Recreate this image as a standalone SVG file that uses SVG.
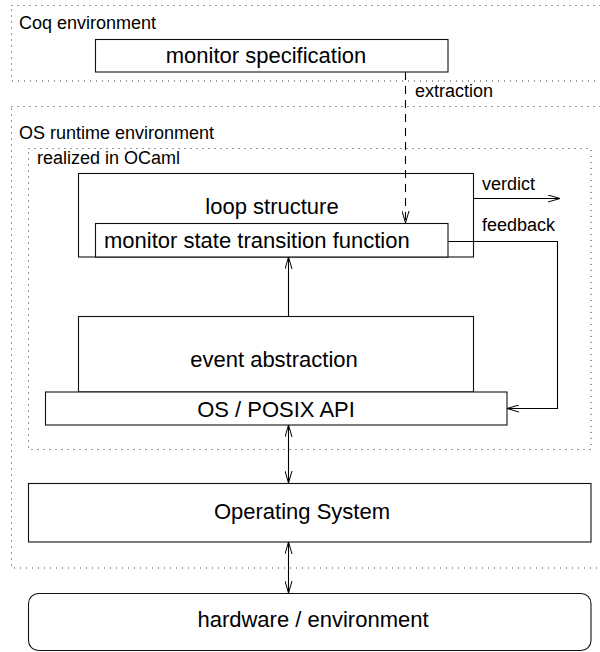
<svg xmlns="http://www.w3.org/2000/svg" width="600" height="652" viewBox="0 0 600 652">
  <style>
    .region { fill: none; stroke: #333; stroke-width: 1; stroke-dasharray: 1 5; }
    .box { fill: #fff; stroke: #111; stroke-width: 1.1; }
    .label { font-family: "Liberation Sans", Arial, sans-serif; font-size: 18px; fill: #000; }
    .title { font-family: "Liberation Sans", Arial, sans-serif; font-size: 22px; fill: #000; text-anchor: middle; }
    .link { fill: none; stroke: #000; stroke-width: 1.1; }
    .dashed { stroke-dasharray: 8 6; }
  </style>
  <defs>
    <marker id="head" markerUnits="userSpaceOnUse" markerWidth="14" markerHeight="8" viewBox="0 0 14 8" refX="13" refY="4" orient="auto-start-reverse">
      <path d="M1,0.5 L13,4 L1,7.5" fill="none" stroke="#000" stroke-width="1"/>
    </marker>
  </defs>

  <!-- environment regions -->
  <g id="coq-env">
    <rect class="region" x="11.5" y="5.5" width="620" height="75.5"/>
    <text class="label" x="19" y="29">Coq environment</text>
  </g>
  <g id="os-runtime-env">
    <rect class="region" x="11.5" y="106.5" width="620" height="461.5"/>
    <text class="label" x="19" y="139">OS runtime environment</text>
  </g>
  <g id="ocaml-region">
    <rect class="region" x="28.5" y="148.5" width="562.5" height="301"/>
    <text class="label" x="37" y="164">realized in OCaml</text>
  </g>

  <!-- components -->
  <g id="monitor-spec">
    <rect class="box" x="95.5" y="39.5" width="352.5" height="32.5"/>
    <text class="title" x="266" y="63">monitor specification</text>
  </g>
  <g id="loop-structure">
    <rect class="box" x="78.5" y="173.5" width="395" height="83.5"/>
    <text class="title" x="272" y="214">loop structure</text>
  </g>
  <g id="transition-function">
    <rect class="box" x="95.5" y="223.5" width="352.5" height="33.5"/>
    <text class="title" x="104" y="248" style="text-anchor:start">monitor state transition function</text>
  </g>
  <g id="event-abstraction">
    <rect class="box" x="78.5" y="316.5" width="395" height="75.5"/>
    <text class="title" x="274" y="367">event abstraction</text>
  </g>
  <g id="posix-api">
    <rect class="box" x="45.5" y="392" width="461.5" height="33"/>
    <text class="title" x="276" y="416.5">OS / POSIX API</text>
  </g>
  <g id="operating-system">
    <rect class="box" x="28.5" y="483.5" width="562.5" height="58.5"/>
    <text class="title" x="302" y="519">Operating System</text>
  </g>
  <g id="hardware">
    <rect class="box" x="28.5" y="593.5" width="562.5" height="57" rx="10" ry="10"/>
    <text class="title" x="313" y="627">hardware / environment</text>
  </g>

  <!-- connectors -->
  <g id="connectors">
    <path class="link dashed" d="M405.5,72 V223" marker-end="url(#head)"/>
    <text class="label" x="415" y="97">extraction</text>
    <path class="link" d="M473.5,198.5 H560" marker-end="url(#head)"/>
    <text class="label" x="482" y="190">verdict</text>
    <path class="link" d="M448,241.5 H557.5 V408.5 H507" marker-end="url(#head)"/>
    <text class="label" x="482" y="231">feedback</text>
    <path class="link" d="M288.5,316 V257" marker-end="url(#head)"/>
    <path class="link" d="M288.5,425 V483" marker-start="url(#head)" marker-end="url(#head)"/>
    <path class="link" d="M288.5,542 V593" marker-start="url(#head)" marker-end="url(#head)"/>
  </g>
</svg>
